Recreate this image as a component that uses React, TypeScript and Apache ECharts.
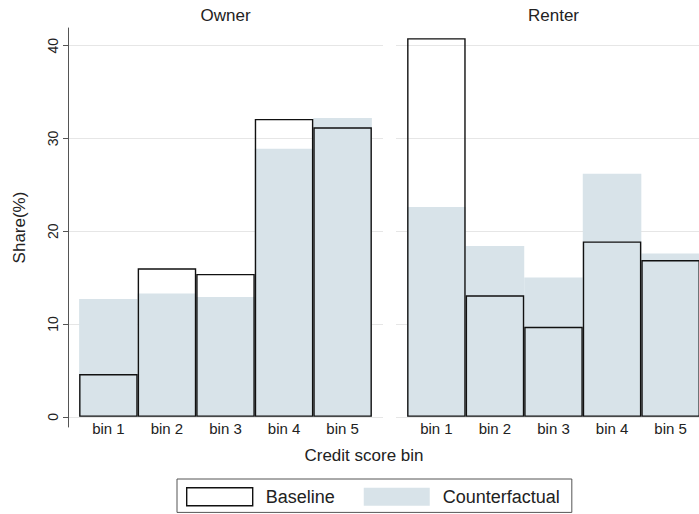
import React, { useEffect, useRef } from "react";
import * as echarts from "echarts";

const categories = ["bin 1", "bin 2", "bin 3", "bin 4", "bin 5"];
const binPositions = [1, 2, 3, 4, 5];
const yTicks = [0, 10, 20, 30, 40];
const panels = ["Owner", "Renter"];
const ownerBaseline = [4.6, 16.0, 15.4, 32.1, 31.2];
const ownerCounterfactual = [12.7, 13.3, 12.9, 28.9, 32.2];
const renterBaseline = [40.8, 13.1, 9.7, 18.9, 16.9];
const renterCounterfactual = [22.6, 18.4, 15.0, 26.2, 17.6];

const FONT = "'Liberation Sans', Arial, Helvetica, sans-serif";
const FILL = "#d8e3e9";
const GRID_COLOR = "#e6e6e6";
const TEXT = "#222";

export default function App() {
  const ref = useRef<HTMLDivElement>(null);
  useEffect(() => {
    document.body.style.margin = "0";
    const chart = echarts.init(ref.current!, null, { renderer: "svg" });
    const pairs = (vals: number[]) => vals.map((v, i) => [binPositions[i], v]);
    const grids = [
      { left: 68, top: 28, width: 315, height: 399 },
      { left: 396, top: 28, width: 315, height: 399 },
    ];
    const xAxes = grids.map((_, gi) => ({
      type: "value",
      gridIndex: gi,
      min: 0.31,
      max: 5.69,
      axisLine: { show: false },
      axisTick: { show: false },
      splitLine: { show: false },
      axisLabel: {
        customValues: binPositions,
        formatter: (v: number) => categories[Math.round(v) - 1] ?? "",
        color: TEXT,
        fontFamily: FONT,
        fontSize: 15,
        margin: -6,
      },
    }));
    const yAxes = grids.map((_, gi) => ({
      type: "value",
      gridIndex: gi,
      min: -1.1,
      max: 41.9,
      name: gi === 0 ? "Share(%)" : "",
      nameLocation: "middle",
      nameGap: 40,
      nameTextStyle: { color: TEXT, fontFamily: FONT, fontSize: 17 },
      axisLine: { show: gi === 0, lineStyle: { color: "#555", width: 1 } },
      axisTick: {
        show: gi === 0,
        customValues: yTicks,
        length: 5,
        lineStyle: { color: "#555" },
      },
      axisLabel: {
        show: gi === 0,
        customValues: yTicks,
        rotate: 90,
        color: TEXT,
        fontFamily: FONT,
        fontSize: 14,
        margin: 8,
      },
      splitLine: { show: true, lineStyle: { color: GRID_COLOR, width: 1 } },
    }));
    const mk = (name: string, vals: number[], gi: number, base: boolean) => ({
      type: "bar",
      name,
      xAxisIndex: gi,
      yAxisIndex: gi,
      data: pairs(vals),
      barWidth: "100%",
      barGap: "-100%",
      itemStyle: base
        ? { color: "rgba(0,0,0,0)", borderColor: "#111", borderWidth: 1.4 }
        : { color: FILL, borderWidth: 0 },
      emphasis: { disabled: true },
    });
    chart.setOption({
      animation: false,
      grid: grids,
      xAxis: xAxes,
      yAxis: yAxes,
      legend: {
        left: 177,
        top: 479,
        padding: [8, 12, 6, 9],
        itemWidth: 66,
        itemHeight: 18,
        itemGap: 29,
        borderColor: "#555",
        borderWidth: 1,
        selectedMode: false,
        textStyle: { color: TEXT, fontFamily: FONT, fontSize: 18, padding: [0, 0, 0, 8] },
        data: [
          { name: "Baseline", icon: "rect", itemStyle: { color: "#fff", borderColor: "#111", borderWidth: 1.4 } },
          { name: "Counterfactual", icon: "rect", itemStyle: { color: FILL, borderWidth: 0 } },
        ],
      },
      graphic: [
        { type: "text", x: 225.5, y: 15, style: { text: panels[0], align: "center", verticalAlign: "middle", font: `17px ${FONT}`, fill: TEXT } },
        { type: "text", x: 553.5, y: 15, style: { text: panels[1], align: "center", verticalAlign: "middle", font: `17px ${FONT}`, fill: TEXT } },
        { type: "text", x: 364, y: 455, style: { text: "Credit score bin", align: "center", verticalAlign: "middle", font: `17px ${FONT}`, fill: TEXT } },
      ],
      series: [
        mk("Counterfactual", ownerCounterfactual, 0, false),
        mk("Baseline", ownerBaseline, 0, true),
        mk("Counterfactual", renterCounterfactual, 1, false),
        mk("Baseline", renterBaseline, 1, true),
      ],
    });
    return () => chart.dispose();
  }, []);
  return (
    <div style={{ width: 699, height: 514, position: "absolute", left: 0, top: 0, overflow: "hidden", background: "#fff" }}>
      <div ref={ref} style={{ width: 730, height: 514 }} />
    </div>
  );
}
